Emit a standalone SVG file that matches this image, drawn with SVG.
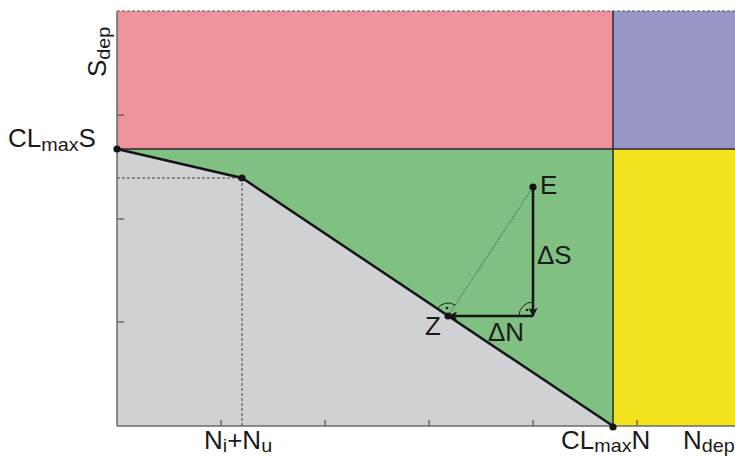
<svg xmlns="http://www.w3.org/2000/svg" width="735" height="457" viewBox="0 0 735 457">
<style>
text{font-family:"Liberation Sans",Arial,sans-serif;font-size:25px;fill:#1a1a1a}
.sub{font-size:19px}
.edge{stroke:#2a2a33;stroke-width:1.5;fill:none}
.axis{stroke:#6a6a6a;stroke-width:1.5;fill:none}
.tick{stroke:#555;stroke-width:1.2}
.dash{stroke:#444;stroke-width:1;stroke-dasharray:3,2;fill:none}
.dot{fill:#151515}
.thick{stroke:#151515;stroke-width:2.5;fill:none}
</style>
<defs>
<marker id="ah" markerWidth="9" markerHeight="9" refX="8" refY="4.5" orient="auto" markerUnits="userSpaceOnUse">
<path d="M0,0 L9,4.5 L0,9 L2,4.5 Z" fill="#151515"/>
</marker>
</defs>
<g id="regions">
<rect id="pink" x="117" y="11" width="496" height="138" fill="#f0929b"/>
<rect id="purple" x="613" y="11" width="122" height="138" fill="#9896c5"/>
<rect id="yellow" x="613" y="149" width="122" height="277" fill="#f2e31e"/>
<polygon id="green" points="117,149 613,149 613,426 242,178" fill="#80c082"/>
<polygon id="gray" points="117,149 242,178 613,426 117,426" fill="#d0d1d3"/>
</g>
<g id="axes">
<line x1="117" y1="11" x2="735" y2="11" stroke="#555" stroke-width="1" stroke-dasharray="3,2"/>
<line class="axis" x1="117" y1="11" x2="117" y2="426"/>
<line class="axis" x1="117" y1="426" x2="735" y2="426"/>
<line class="edge" x1="117" y1="149" x2="735" y2="149"/>
<line class="edge" x1="613" y1="11" x2="613" y2="426"/>
<line class="tick" x1="117" y1="115" x2="124" y2="115"/>
<line class="tick" x1="117" y1="219" x2="124" y2="219"/>
<line class="tick" x1="117" y1="322" x2="124" y2="322"/>
<line class="tick" x1="221" y1="426" x2="221" y2="420"/>
<line class="tick" x1="325" y1="426" x2="325" y2="420"/>
<line class="tick" x1="429" y1="426" x2="429" y2="420"/>
<line class="tick" x1="533" y1="426" x2="533" y2="420"/>
<line class="tick" x1="637" y1="426" x2="637" y2="420"/>
</g>
<g id="connectors">
<polyline class="dash" points="117,178 242,178 242,426"/>
<polyline class="thick" points="117,149 242,178 613,426"/>
<line x1="533" y1="187" x2="448" y2="316" stroke="#222" stroke-width="0.9" stroke-dasharray="1,1.5"/>
<line class="thick" x1="533" y1="187" x2="533" y2="316" marker-end="url(#ah)"/>
<line class="thick" x1="533" y1="316" x2="449" y2="316" marker-end="url(#ah)"/>
<path d="M437.2,308.8 A13 13 0 0 1 455.2,305.1" fill="none" stroke="#222" stroke-width="1"/>
<circle cx="447" cy="308" r="1.3" class="dot"/>
<path d="M519,316 A14 14 0 0 1 533,302" fill="none" stroke="#222" stroke-width="1"/>
<circle cx="527" cy="310" r="1.3" class="dot"/>
</g>
<g id="points">
<circle id="p-clmaxs" cx="117" cy="149" r="3.6" class="dot"/>
<circle id="p-ninu" cx="242" cy="178" r="3.6" class="dot"/>
<circle id="p-clmaxn" cx="613" cy="427" r="3.6" class="dot"/>
<circle id="p-e" cx="533" cy="187" r="3.6" class="dot"/>
<circle id="p-z" cx="448" cy="316" r="3.6" class="dot"/>
</g>
<g id="labels">
<text transform="translate(8,147) scale(1.04,1)">CL<tspan class="sub" dy="4">max</tspan><tspan dy="-4">S</tspan></text>
<text transform="translate(204,449) scale(1.04,1)">N<tspan class="sub" dy="3">i</tspan><tspan dy="-3">+N</tspan><tspan class="sub" dy="3">u</tspan></text>
<text transform="translate(561,449) scale(1.04,1)">CL<tspan class="sub" dy="3">max</tspan><tspan dy="-3">N</tspan></text>
<text transform="translate(683,449) scale(1.04,1)">N<tspan class="sub" dy="3">dep</tspan></text>
<text transform="translate(106,77) rotate(-90) scale(1.04,1)">S<tspan class="sub" dy="4">dep</tspan></text>
<text transform="translate(540,194) scale(1.04,1)">E</text>
<text transform="translate(537,264) scale(1.04,1)">ΔS</text>
<text transform="translate(488,341) scale(1.04,1)">ΔN</text>
<text transform="translate(425,335) scale(1.04,1)">Z</text>
</g>
</svg>
